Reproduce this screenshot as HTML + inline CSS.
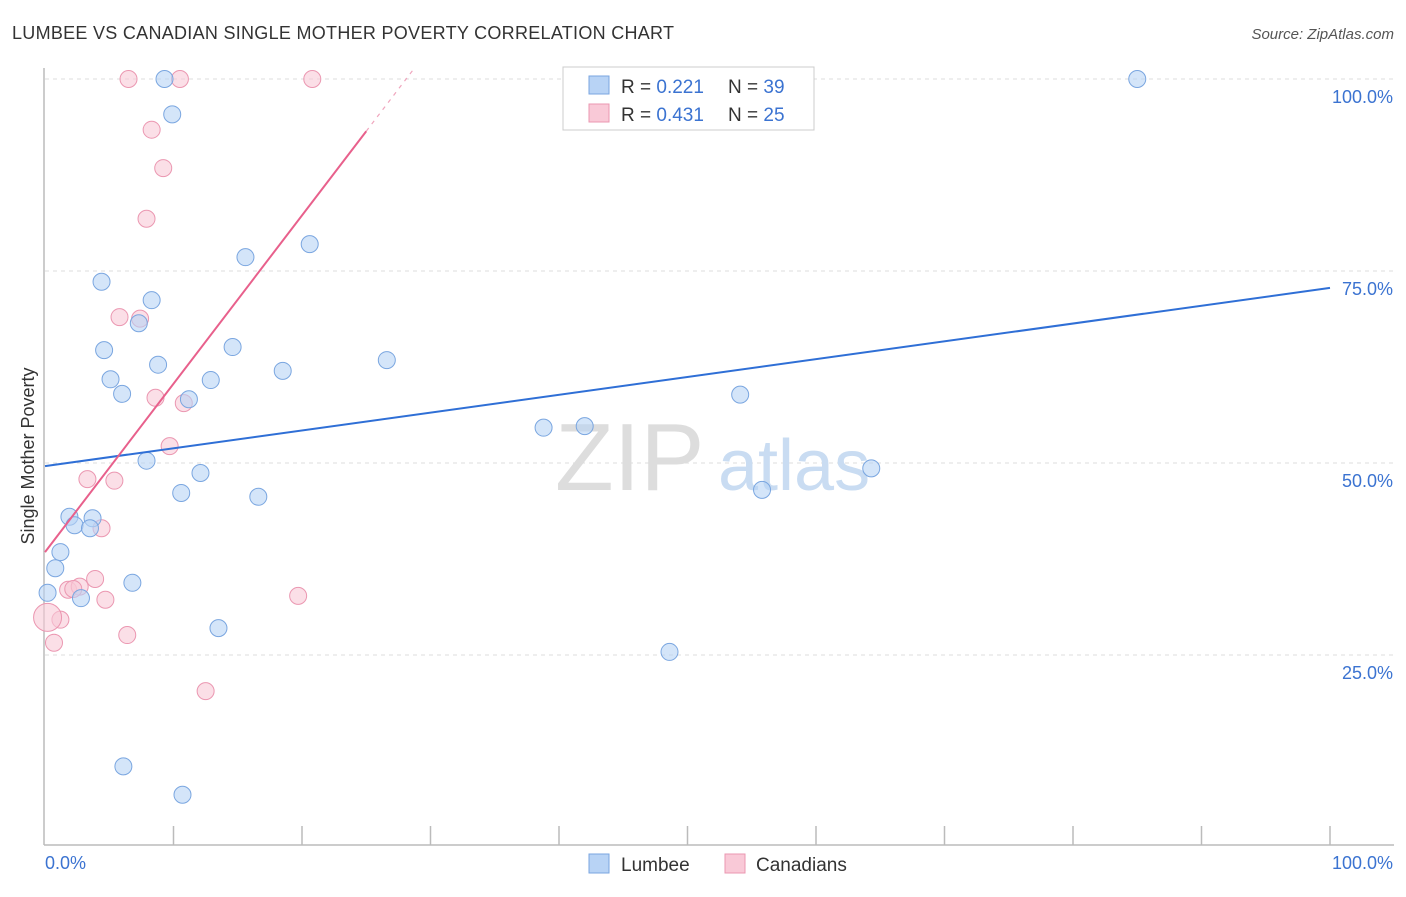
<!DOCTYPE html>
<html><head><meta charset="utf-8"><style>
body{margin:0;background:#fff;font-family:"Liberation Sans",sans-serif;}
svg text{font-family:"Liberation Sans",sans-serif;}
</style></head><body>
<svg id="chart" width="1406" height="892" viewBox="0 0 1406 892">
<text x="12" y="39" font-size="18" fill="#333" textLength="662">LUMBEE VS CANADIAN SINGLE MOTHER POVERTY CORRELATION CHART</text>
<text x="1394" y="39" font-size="15" fill="#555" font-style="italic" text-anchor="end">Source: ZipAtlas.com</text>
<g id="grid"></g>
<g><text x="555" y="490" font-size="96" fill="#ddd" font-family="Liberation Serif">ZIP</text><text x="718" y="490" font-size="72" fill="#c9dcf2">atlas</text></g>
<g id="axes"></g>
<g id="marks"></g>
<text x="34" y="456" font-size="18" fill="#333" text-anchor="middle" transform="rotate(-90 34 456)">Single Mother Poverty</text>
<g>
<rect x="563" y="67" width="251" height="63" fill="#fff" stroke="#ccc"/>
<rect x="589" y="76" width="20" height="18" fill="#b8d3f5" stroke="#7aa6e0"/>
<text x="621" y="93" font-size="19" fill="#333">R = <tspan fill="#3b73d1">0.221</tspan></text>
<text x="728" y="93" font-size="19" fill="#333">N = <tspan fill="#3b73d1">39</tspan></text>
<rect x="589" y="104" width="20" height="18" fill="#f9c9d7" stroke="#eb97b1"/>
<text x="621" y="121" font-size="19" fill="#333">R = <tspan fill="#3b73d1">0.431</tspan></text>
<text x="728" y="121" font-size="19" fill="#333">N = <tspan fill="#3b73d1">25</tspan></text>
</g>
<g>
<rect x="589" y="854" width="20" height="19" fill="#b8d3f5" stroke="#7aa6e0"/>
<text x="621" y="871" font-size="19" fill="#333">Lumbee</text>
<rect x="725" y="854" width="20" height="19" fill="#f9c9d7" stroke="#eb97b1"/>
<text x="756" y="871" font-size="19" fill="#333">Canadians</text>
</g>
</svg>
<script>
const blueX=[9.3,85.0,9.9,20.6,15.6,4.4,8.3,7.3,4.6,14.6,8.8,26.6,5.1,12.9,18.5,6.0,11.2,54.1,38.8,42.0,7.9,12.1,10.6,16.6,55.8,64.3,1.9,3.7,2.3,3.5,1.2,0.8,6.8,0.2,2.8,13.5,48.6,6.1,10.7];
const blueY=[100,100,95.4,78.5,76.8,73.6,71.2,68.2,64.7,65.1,62.8,63.4,60.9,60.8,62.0,59.0,58.3,58.9,54.6,54.8,50.3,48.7,46.1,45.6,46.5,49.3,43.0,42.8,41.9,41.5,38.4,36.3,34.4,33.1,32.4,28.5,25.4,10.5,6.8];
const pinkX=[6.5,10.5,20.8,8.3,9.2,7.9,5.8,7.4,8.6,10.8,9.7,3.3,5.4,4.4,3.9,1.8,2.7,4.7,19.7,1.2,6.4,0.7,12.5,0.2,2.2];
const pinkY=[100,100,100,93.4,88.4,81.8,69.0,68.8,58.5,57.8,52.2,47.9,47.7,41.5,34.9,33.5,33.9,32.2,32.7,29.6,27.6,26.6,20.3,29.9,33.6];
const blueTrend=[49.6,72.8];
const pinkTrend=[38.4,93.2]; // values at x=0 and x=25
const yTicks=[25,50,75,100];
const yTickLabels=["25.0%","50.0%","75.0%","100.0%"];
const NS="http://www.w3.org/2000/svg";
const sx=v=>45+v*12.85, sy=v=>847-v*7.68;
function mk(tag,attrs,parent){const e=document.createElementNS(NS,tag);for(const k in attrs)e.setAttribute(k,attrs[k]);parent.appendChild(e);return e;}
const grid=document.getElementById('grid'),axes=document.getElementById('axes'),marks=document.getElementById('marks');
yTicks.forEach((t,i)=>{
 const l=mk('line',{x1:45,x2:1394,y1:sy(t),y2:sy(t),stroke:'#ddd','stroke-dasharray':'4 4'},grid);
 
 
 const tx=mk('text',{x:1393,y:sy(t)+24,'font-size':18,fill:'#3b73d1','text-anchor':'end'},axes);
 tx.textContent=yTickLabels[i];
 
 
});
let a=mk('line',{x1:44,x2:44,y1:68,y2:845,stroke:'#bbb','stroke-width':1.5},axes);


a=mk('line',{x1:44,x2:1394,y1:845,y2:845,stroke:'#bbb','stroke-width':1.5},axes);


for(let i=1;i<=10;i++){
 const t=mk('line',{x1:sx(i*10),x2:sx(i*10),y1:826,y2:845,stroke:'#bbb','stroke-width':1.5},axes);
 
 
}
let xl=mk('text',{x:45,y:869,'font-size':18,fill:'#3b73d1'},axes);xl.textContent='0.0%';


xl=mk('text',{x:1393,y:869,'font-size':18,fill:'#3b73d1','text-anchor':'end'},axes);xl.textContent='100.0%';


pinkX.forEach((x,i)=>{
 const c=mk('circle',{cx:sx(x),cy:sy(pinkY[i]),r:i==23?14:8.5,fill:'#f9c9d7','fill-opacity':0.6,stroke:'#eb97b1','stroke-width':1},marks);
 
 
});
blueX.forEach((x,i)=>{
 const c=mk('circle',{cx:sx(x),cy:sy(blueY[i]),r:8.5,fill:'#b8d3f5','fill-opacity':0.6,stroke:'#7aa6e0','stroke-width':1},marks);
 
 
});
let ln=mk('line',{x1:sx(0),y1:sy(blueTrend[0]),x2:sx(100),y2:sy(blueTrend[1]),stroke:'#2f6fd6','stroke-width':2},marks);


const ps=(pinkTrend[1]-pinkTrend[0])/25, pv=x=>pinkTrend[0]+ps*x;
ln=mk('line',{x1:sx(0),y1:sy(pv(0)),x2:sx(25),y2:sy(pv(25)),stroke:'#e8608c','stroke-width':2},marks);


const xe=(100-pinkTrend[0])/ps;
ln=mk('line',{x1:sx(25),y1:sy(pv(25)),x2:sx(xe+0.6),y2:sy(pv(xe+0.6)),stroke:'#f0a5bd','stroke-width':1.2,'stroke-dasharray':'4 5'},marks);


</script>
</body></html>
